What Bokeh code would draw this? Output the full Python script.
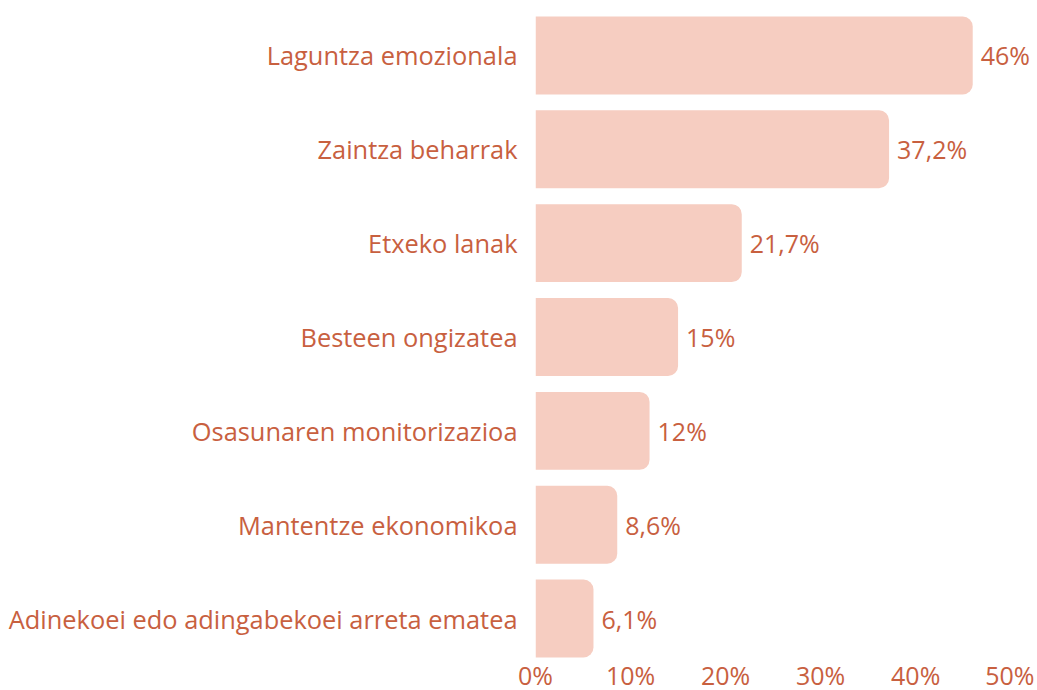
from bokeh.plotting import figure
from bokeh.models import ColumnDataSource, FixedTicker, CustomJSTickFormatter
from bokeh.core.properties import value
from bokeh.embed import file_html
from bokeh.resources import INLINE

categories = ["Laguntza emozionala", "Zaintza beharrak", "Etxeko lanak", "Besteen ongizatea",
              "Osasunaren monitorizazioa", "Mantentze ekonomikoa", "Adinekoei edo adingabekoei arreta ematea"]
values = [46, 37.2, 21.7, 15, 12, 8.6, 6.1]
labels = ["46%", "37,2%", "21,7%", "15%", "12%", "8,6%", "6,1%"]
x_ticks = [0, 10, 20, 30, 40, 50]

BAR = "#f6cdc1"
TXT = "#c8603f"
FONT = "Open Sans"
FS = "25px"

src = ColumnDataSource(dict(cat=categories, val=values, lab=labels))

p = figure(frame_width=499, frame_height=657, y_range=list(reversed(categories)), x_range=(0, 52.5),
           output_backend="svg", toolbar_location=None,
           min_border_left=535, min_border_right=0, min_border_top=8, min_border_bottom=0)

p.hbar(y="cat", right="val", height=0.83, source=src, color=BAR, line_color=None,
       border_radius=(0, 10, 10, 0))
p.text(x="val", y="cat", text="lab", source=src, x_offset=8, text_align="left",
       text_baseline="middle", text_color=TXT, text_font=value(FONT), text_font_size=FS)

p.y_range.range_padding = 0
p.grid.visible = False
p.outline_line_color = None
p.background_fill_color = "white"

for ax in (p.xaxis[0], p.yaxis[0]):
    ax.axis_line_color = None
    ax.major_tick_line_color = None
    ax.minor_tick_line_color = None
    ax.major_label_text_color = TXT
    ax.major_label_text_font = FONT
    ax.major_label_text_font_size = FS

p.yaxis.major_label_text_font_size = "25.4px"
p.xaxis.ticker = FixedTicker(ticks=x_ticks)
p.xaxis.formatter = CustomJSTickFormatter(code="return tick + '%';")
p.xaxis.major_label_standoff = -14
p.yaxis.major_label_standoff = 12

open("out.html", "w").write(file_html(p, INLINE))
